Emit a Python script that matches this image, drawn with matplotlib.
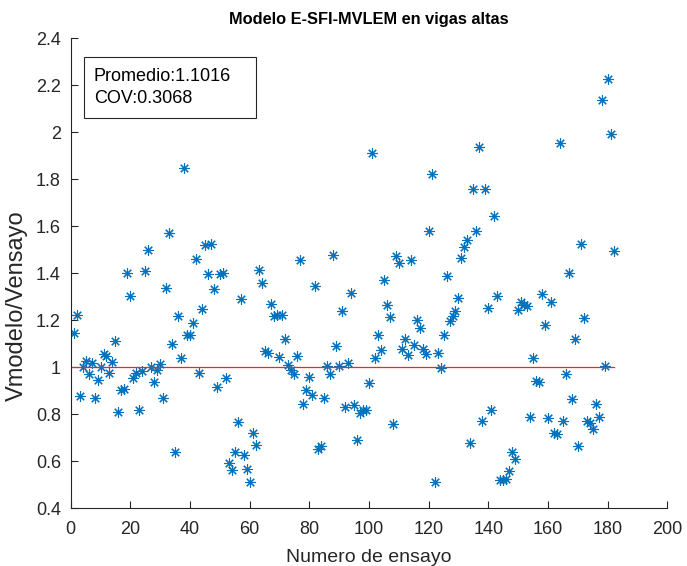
import numpy as np
import matplotlib
matplotlib.use("Agg")
import matplotlib.pyplot as plt
from matplotlib.patches import Rectangle

plt.rcParams['font.family'] = ['Liberation Sans', 'DejaVu Sans']

# Vmodelo/Vensayo for each test, in order (ensayo 1..182)
ratio = [1.146, 1.223, 0.879, 1.000, 1.027, 0.970, 1.020, 0.870, 0.944, 1.003,
         1.055, 1.050, 0.975, 1.024, 1.110, 0.810, 0.903, 0.909, 1.402, 1.304,
         0.954, 0.975, 0.820, 0.985, 1.412, 1.498, 1.003, 0.936, 0.990, 1.013,
         0.870, 1.339, 1.570, 1.100, 0.638, 1.220, 1.038, 1.848, 1.136, 1.136,
         1.190, 1.461, 0.975, 1.248, 1.520, 1.398, 1.526, 1.332, 0.916, 1.398,
         1.400, 0.954, 0.594, 0.561, 0.638, 0.767, 1.290, 0.629, 0.568, 0.512,
         0.720, 0.671, 1.416, 1.357, 1.069, 1.059, 1.269, 1.220, 1.223, 1.042,
         1.223, 1.122, 1.010, 0.990, 0.971, 1.048, 1.455, 0.842, 0.905, 0.957,
         0.884, 1.346, 0.652, 0.664, 0.870, 1.006, 0.972, 1.476, 1.091, 1.006,
         1.238, 0.832, 1.017, 1.318, 0.839, 0.692, 0.807, 0.820, 0.820, 0.933,
         1.910, 1.038, 1.139, 1.073, 1.371, 1.266, 1.213, 0.760, 1.475, 1.444,
         1.077, 1.119, 1.052, 1.455, 1.094, 1.202, 1.167, 1.080, 1.055, 1.582,
         1.823, 0.512, 1.063, 0.999, 1.136, 1.388, 1.195, 1.220, 1.241, 1.294,
         1.465, 1.512, 1.542, 0.676, 1.760, 1.578, 1.939, 0.772, 1.760, 1.251,
         0.820, 1.645, 1.304, 0.522, 0.522, 0.526, 0.559, 0.638, 0.610, 1.245,
         1.279, 1.265, 1.259, 0.788, 1.041, 0.943, 0.937, 1.314, 1.178, 0.783,
         1.276, 0.722, 0.715, 1.956, 0.772, 0.971, 1.400, 0.867, 1.122, 0.664,
         1.526, 1.209, 0.772, 0.765, 0.737, 0.844, 0.788, 2.138, 1.007, 2.225,
         1.994, 1.496]
ensayo = np.arange(1, len(ratio) + 1)

promedio = 1.1016
cov = 0.3068
ref_x = [0, 182]
ref_y = [1, 1]

fig = plt.figure(figsize=(6.87, 5.66), dpi=100)
ax = fig.add_axes([0.1029, 0.1019, 0.8684, 0.8304])

ax.plot(ensayo, ratio, linestyle='none', marker=(8, 2, 0), markersize=7.5,
        markeredgewidth=0.8, color='#0072BD')
ax.plot(ref_x, ref_y, color='#FF2020', linewidth=0.9)

ax.set_xlim(0, 200)
ax.set_ylim(0.4, 2.4)
ax.set_xticks(np.arange(0, 201, 20))
ax.set_yticks(np.arange(0.4, 2.41, 0.2))
ax.set_yticklabels(['0.4', '0.6', '0.8', '1', '1.2', '1.4', '1.6', '1.8', '2', '2.2', '2.4'])

for s in ['top', 'right']:
    ax.spines[s].set_visible(False)
for s in ['left', 'bottom']:
    ax.spines[s].set_color('#262626')
    ax.spines[s].set_linewidth(0.8)
ax.tick_params(direction='in', length=5, width=0.8, colors='#262626', labelsize=13)
ax.tick_params(axis='y', pad=7)
ax.tick_params(axis='x', pad=9)

ax.set_title('Modelo E-SFI-MVLEM en vigas altas', fontsize=11.8, fontweight='bold',
             color='black', pad=10)
ax.set_xlabel('Numero de ensayo', fontsize=14, color='#262626', labelpad=8)
# y label sits a little below the axes centre in the reference
fig.text(17 / 687, 1 - 306 / 566, 'Vmodelo/Vensayo', rotation=90, fontsize=17,
         color='#262626', ha='center', va='center')

ax.add_patch(Rectangle((0.0223, 0.830), 0.2883, 0.130, transform=ax.transAxes,
                       facecolor='white', edgecolor='#262626', linewidth=0.8))
ax.text(0.0385, 0.918, 'Promedio:%.4f' % promedio, transform=ax.transAxes,
        fontsize=13, va='center', color='black')
ax.text(0.0385, 0.873, 'COV:%.4f' % cov, transform=ax.transAxes,
        fontsize=13, va='center', color='black')

fig.savefig('out.png', dpi=100)
